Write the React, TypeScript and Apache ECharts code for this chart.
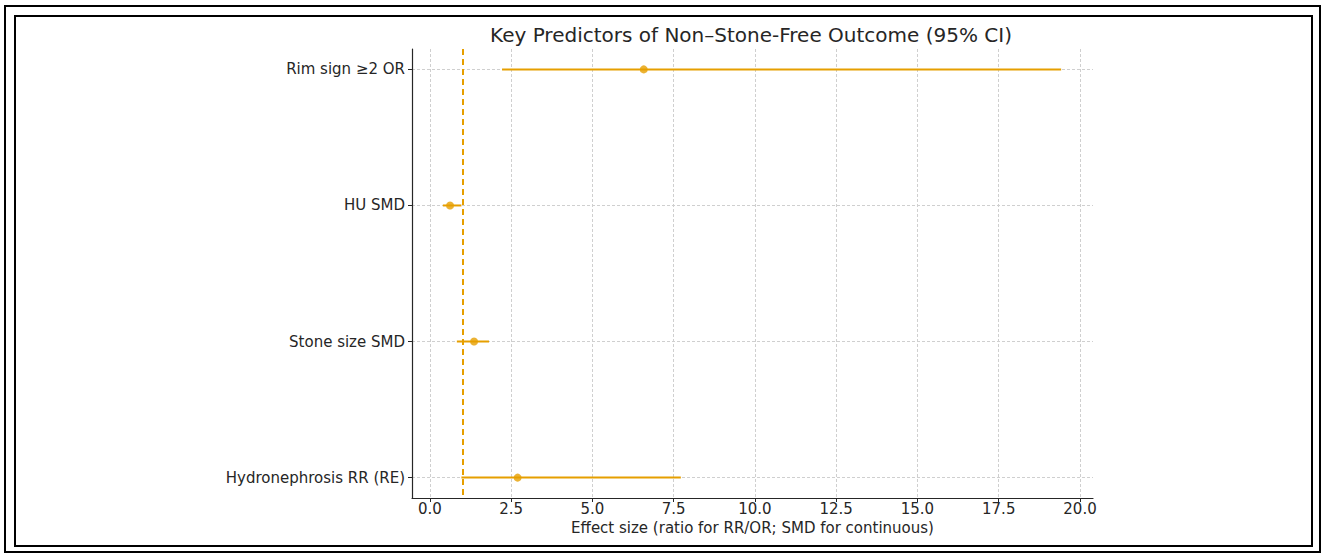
import React, { useEffect, useRef } from "react";
import * as echarts from "echarts";

const categories = ["Rim sign ≥2 OR", "HU SMD", "Stone size SMD", "Hydronephrosis RR (RE)"];
const estimates = [6.58, 0.62, 1.36, 2.7];
const lowerCI = [2.22, 0.4, 0.83, 0.97];
const upperCI = [19.42, 0.97, 1.82, 7.72];
const xTicks = [0, 2.5, 5, 7.5, 10, 12.5, 15, 17.5, 20];
const yTicks = [0, 1, 2, 3];
const refValue = 1;

const COLOR = "#E69F00";
const FONT = "DejaVu Sans";

export default function App() {
  const ref = useRef<HTMLDivElement>(null);
  useEffect(() => {
    const chart = echarts.init(ref.current!, null, { renderer: "svg" });
    const ciData = categories.map((_, i) => [lowerCI[i], upperCI[i], i]);
    const ptData = categories.map((_, i) => [estimates[i], i]);
    chart.setOption({
      animation: false,
      backgroundColor: "#fff",
      title: {
        text: "Key Predictors of Non–Stone-Free Outcome (95% CI)",
        left: 746,
        textAlign: "center",
        top: 20,
        textStyle: { fontFamily: FONT, fontSize: 20, fontWeight: "normal", color: "#262626" },
      },
      graphic: [
        { type: "rect", shape: { x: 5, y: 6, width: 1315, height: 546 }, style: { fill: "none", stroke: "#000", lineWidth: 2 }, silent: true },
        { type: "rect", shape: { x: 15, y: 16, width: 1297, height: 530 }, style: { fill: "none", stroke: "#000", lineWidth: 2 }, silent: true },
      ],
      grid: { left: 412, right: 230, top: 49, bottom: 55 },
      xAxis: {
        type: "value",
        min: -0.55,
        max: 20.4,
        name: "Effect size (ratio for RR/OR; SMD for continuous)",
        nameLocation: "middle",
        nameGap: 22,
        nameTextStyle: { fontFamily: FONT, fontSize: 15, color: "#262626", verticalAlign: "top" },
        axisLine: { show: true, onZero: false, lineStyle: { color: "#262626", width: 1.2 } },
        axisTick: { show: true, customValues: xTicks, length: 4, lineStyle: { color: "#262626" } },
        axisLabel: {
          customValues: xTicks,
          formatter: (v: number) => v.toFixed(1),
          fontFamily: FONT,
          fontSize: 15,
          color: "#262626",
          margin: 3,
        },
        splitLine: { show: true, lineStyle: { color: "#cfcfcf", type: [3, 2], width: 1 } },
      },
      yAxis: {
        type: "value",
        min: -0.15,
        max: 3.15,
        inverse: true,
        axisLine: { show: true, onZero: false, lineStyle: { color: "#262626", width: 1.2 } },
        axisTick: { show: true, customValues: yTicks, length: 4, lineStyle: { color: "#262626" } },
        axisLabel: {
          customValues: yTicks,
          formatter: (v: number) => categories[Math.round(v)] ?? "",
          fontFamily: FONT,
          fontSize: 15,
          color: "#262626",
          margin: 7,
        },
        splitLine: { show: true, lineStyle: { color: "#cfcfcf", type: [3, 2], width: 1 } },
      },
      series: [
        {
          type: "custom",
          data: ciData,
          encode: { x: [0, 1], y: 2 },
          renderItem: (params: any, api: any) => {
            const p1 = api.coord([api.value(0), api.value(2)]);
            const p2 = api.coord([api.value(1), api.value(2)]);
            return {
              type: "line",
              shape: { x1: p1[0], y1: p1[1], x2: p2[0], y2: p2[1] },
              style: { stroke: COLOR, lineWidth: 2 },
            };
          },
          z: 3,
        },
        {
          type: "scatter",
          data: ptData,
          symbol: "circle",
          symbolSize: 8,
          itemStyle: { color: COLOR },
          z: 4,
          markLine: {
            silent: true,
            symbol: "none",
            label: { show: false },
            lineStyle: { color: COLOR, type: [6, 4], width: 2 },
            data: [{ xAxis: refValue }],
          },
        },
      ],
    });
    return () => chart.dispose();
  }, []);
  return <div ref={ref} style={{ position: "absolute", left: 0, top: 0, width: 1323, height: 553 }} />;
}
